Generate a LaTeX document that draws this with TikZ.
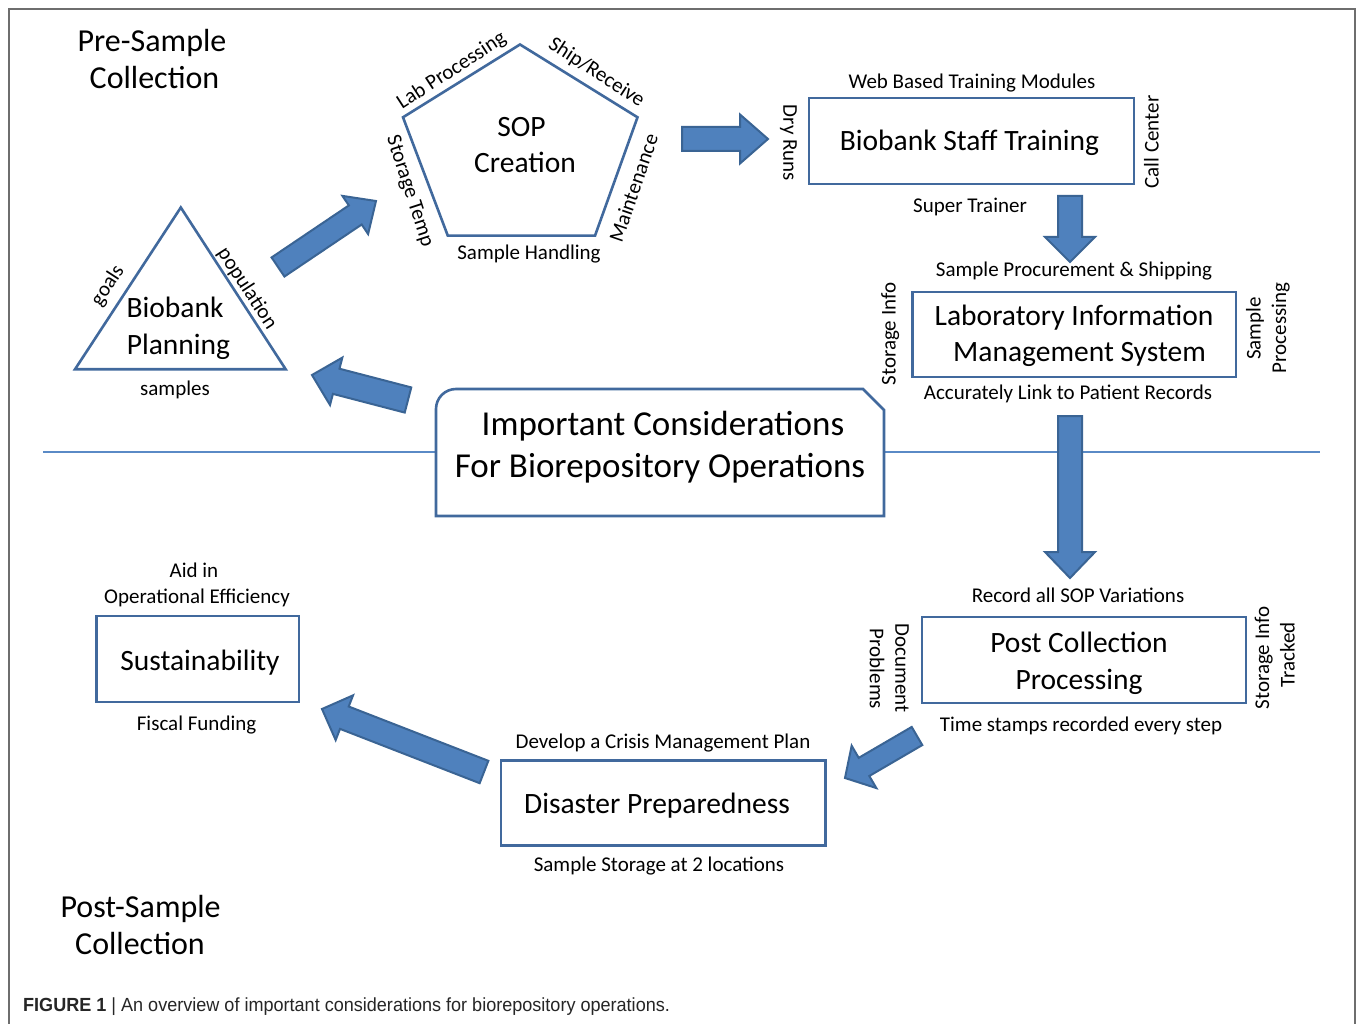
\documentclass[tikz,border=0pt]{standalone}
\usepackage{fontspec}
\setmainfont{Carlito}
\newfontfamily\capfont{Liberation Sans}[FakeStretch=0.95]
\usetikzlibrary{calc}
\definecolor{boxblue}{HTML}{41699D}
\definecolor{arrblue}{HTML}{4F81BD}
\definecolor{arrline}{HTML}{3A6494}
\definecolor{linblue}{HTML}{5A8AC6}
\definecolor{framecol}{HTML}{6E6E6E}
\newcommand{\blockarrow}[5]{%
  \coordinate (ba-base) at ($(#2)!#5!(#1)$);
  \draw[arrowsty] ($(#1)!#3!90:(#2)$) -- ($(ba-base)!#3!90:(#2)$) -- ($(ba-base)!#4!90:(#2)$) -- (#2) -- ($(ba-base)!#4!-90:(#2)$) -- ($(ba-base)!#3!-90:(#2)$) -- ($(#1)!#3!-90:(#2)$) -- cycle;}
\tikzset{
  lbl/.style={font=\fontsize{21}{25}\selectfont, inner sep=0pt, text height=13.3pt, text depth=0pt},
  big/.style={font=\fontsize{29.5}{36}\selectfont, inner sep=0pt, text height=18.6pt, text depth=0pt},
  ttl/.style={font=\fontsize{32}{38}\selectfont, inner sep=0pt, text height=20.2pt, text depth=0pt},
  imp/.style={font=\fontsize{35}{43}\selectfont, inner sep=0pt, text height=22.1pt, text depth=0pt},
  boxsty/.style={draw=boxblue, line width=2.6pt, fill=white, inner sep=0pt, outer sep=0pt},
  shapesty/.style={draw=boxblue, line width=2.6pt, line join=miter},
  arrowsty/.style={fill=arrblue, draw=arrline, line width=2pt, line join=miter},
}
\begin{document}
\begin{tikzpicture}[x=1pt,y=-1pt]
\useasboundingbox (0,0) rectangle (1358,1024);
\fill[white] (0,0) rectangle (1358,1024);
% frame
\draw[framecol, line width=2pt] (9,1024) -- (9,9) -- (1355,9) -- (1355,1024);
% divider
\coordinate (divL) at (43,452);
\coordinate (divR) at (1320,452);
\draw[linblue, line width=1.6pt] (divL) -- (divR);
% central box
\draw[boxblue, line width=2.6pt, fill=white] (436,516) [rounded corners=20pt] -- (436,389) [sharp corners] -- (863,389) -- (884,410) -- (884,516) -- cycle;
\node[imp] (imp1) at (663,424) {Important Considerations};
\node[imp] (imp2) at (660,466) {For Biorepository Operations};
% titles
\node[ttl] (pre1) at (152,41) {Pre-Sample};
\node[ttl] (pre2) at (154.5,78) {Collection};
\node[ttl] (post1) at (140.6,907) {Post-Sample};
\node[ttl] (post2) at (140,944) {Collection};
% triangle
\coordinate (triA) at (180.8,207.5);
\coordinate (triB) at (75,369.3);
\coordinate (triC) at (285.7,369.3);
\draw[shapesty] (triA) -- (triB) -- (triC) -- cycle;
\node[big] (bp1) at (175,308) {Biobank};
\node[big] (bp2) at (178.5,345) {Planning};
\node[lbl] (samples) at (175,388.5) {samples};
\node[lbl, rotate=57] (goals) at (107,285) {goals};
\node[lbl, rotate=-57] (population) at (248,288) {population};
% pentagon
\coordinate (pT) at (520,44.5);
\coordinate (pUL) at (403,117.3);
\coordinate (pUR) at (637.5,117.3);
\coordinate (pLR) at (595,235.7);
\coordinate (pLL) at (447.8,235.7);
\draw[shapesty] (pT) -- (pUR) -- (pLR) -- (pLL) -- (pUL) -- cycle;
\node[big] (sop1) at (521.5,127) {SOP};
\node[big] (sop2) at (525,163) {Creation};
\node[lbl, rotate=33] (lab) at (451,70) {Lab Processing};
\node[lbl, rotate=-33] (ship) at (597,72) {Ship/Receive};
\node[lbl, rotate=-72] (stemp) at (411,191) {Storage Temp};
\node[lbl, rotate=71] (maint) at (634,188) {Maintenance};
\node[lbl] (handl) at (529,253) {Sample Handling};
% staff training
\node[boxsty, minimum width=325pt, minimum height=86pt] (staff) at (971.5,141) {};
\node[big] (stafft) at (969.5,141) {Biobank Staff Training};
\node[lbl] (web) at (972,82) {Web Based Training Modules};
\node[lbl] (super) at (970,206) {Super Trainer};
\node[lbl, rotate=-90] (dry) at (790,143) {Dry Runs};
\node[lbl, rotate=90] (call) at (1152,142) {Call Center};
% LIMS
\node[boxsty, minimum width=323.5pt, minimum height=85pt] (lims) at (1074.2,334.5) {};
\node[big] (lims1) at (1074,316) {Laboratory Information};
\node[big] (lims2) at (1079.5,352.5) {Management System};
\node[lbl] (proc) at (1074,270) {Sample Procurement \& Shipping};
\node[lbl] (acc) at (1068,393) {Accurately Link to Patient Records};
\node[lbl, rotate=90] (sinfo) at (889,334) {Storage Info};
\node[lbl, rotate=90] (sample) at (1254,328.5) {Sample};
\node[lbl, rotate=90] (processing) at (1279.5,328) {Processing};
% post collection
\node[boxsty, minimum width=324pt, minimum height=86pt] (pcp) at (1083.8,660) {};
\node[big] (pcp1) at (1079,643) {Post Collection};
\node[big] (pcp2) at (1079,680) {Processing};
\node[lbl] (record) at (1078,596) {Record all SOP Variations};
\node[lbl] (tstamp) at (1081,725) {Time stamps recorded every step};
\node[lbl, rotate=-90] (doc) at (902,668) {Document};
\node[lbl, rotate=-90] (prob) at (876.5,669) {Problems};
\node[lbl, rotate=90] (sinfo2) at (1262.5,658) {Storage Info};
\node[lbl, rotate=90] (tracked) at (1288,655) {Tracked};
% disaster
\node[boxsty, minimum width=324.5pt, minimum height=85pt] (dis) at (663.2,803) {};
\node[big] (dist) at (657,804.5) {Disaster Preparedness};
\node[lbl] (develop) at (663,742) {Develop a Crisis Management Plan};
\node[lbl] (twoloc) at (659,865) {Sample Storage at 2 locations};
% sustainability
\node[boxsty, minimum width=202.5pt, minimum height=86pt] (sus) at (197.8,659) {};
\node[big] (sust) at (200,661.5) {Sustainability};
\node[lbl] (aid) at (194,571) {Aid in};
\node[lbl] (oe) at (197,596.5) {Operational Efficiency};
\node[lbl] (fiscal) at (196.6,723.5) {Fiscal Funding};
% arrows
\coordinate (a1t) at (278,267);   \coordinate (a1h) at (376,201);
\coordinate (a2t) at (682,139);   \coordinate (a2h) at (768,139);
\coordinate (a3t) at (1070,196);  \coordinate (a3h) at (1070,262);
\coordinate (a4t) at (1070,416);  \coordinate (a4h) at (1070,578);
\coordinate (a5t) at (917,736);   \coordinate (a5h) at (845,778);
\coordinate (a6t) at (484,772);   \coordinate (a6h) at (322,709);
\coordinate (a7t) at (408,400);   \coordinate (a7h) at (312,375);
\blockarrow{a1t}{a1h}{11.5pt}{23pt}{25pt}
\blockarrow{a2t}{a2h}{12pt}{24.5pt}{28pt}
\blockarrow{a3t}{a3h}{12pt}{25pt}{25pt}
\blockarrow{a4t}{a4h}{12pt}{25pt}{26pt}
\blockarrow{a5t}{a5h}{10.5pt}{24.5pt}{22pt}
\blockarrow{a6t}{a6h}{12pt}{24pt}{24pt}
\blockarrow{a7t}{a7h}{13pt}{24.5pt}{25pt}
% caption
\node[anchor=base west, inner sep=0pt, font=\capfont\fontsize{19}{22}\selectfont, text=black!85] (cap) at (23,1011.5) {\textbf{FIGURE 1} | An overview of important considerations for biorepository operations.};
\end{tikzpicture}
\end{document}
